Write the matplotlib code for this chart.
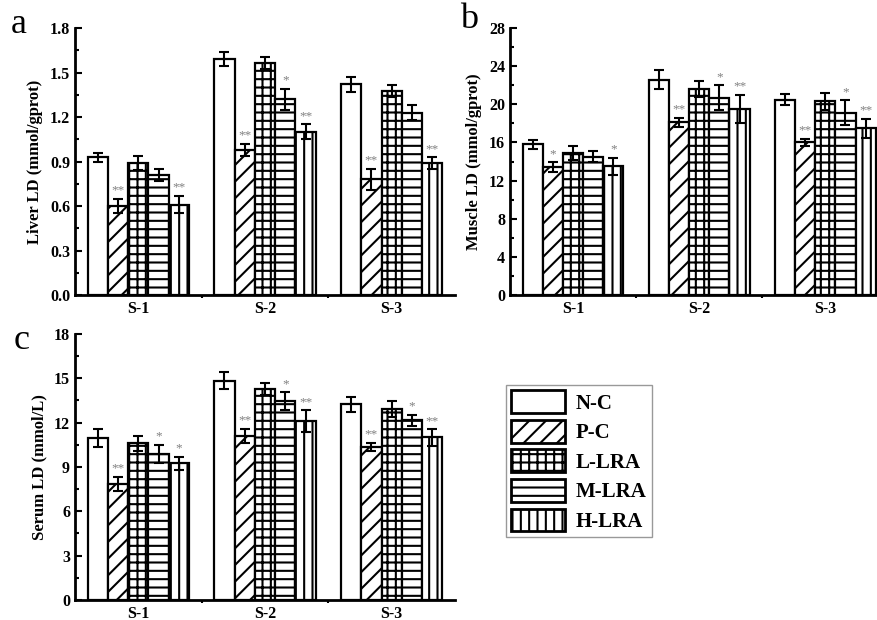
"""Liver, muscle and serum LD bar charts for the five treatment groups."""
import matplotlib

matplotlib.use("Agg")
import matplotlib.pyplot as plt
import numpy as np
from matplotlib.patches import Patch

groups = ["S-1", "S-2", "S-3"]
treatments = ["N-C", "P-C", "L-LRA", "M-LRA", "H-LRA"]
hatches = ["", "//", "++", "--", "||"]

# Rows are treatments (N-C .. H-LRA), columns are S-1, S-2, S-3.
liver_means = [
    [0.93, 1.59, 1.42],
    [0.60, 0.98, 0.78],
    [0.89, 1.565, 1.375],
    [0.81, 1.32, 1.23],
    [0.61, 1.10, 0.89],
]
liver_errors = [
    [0.03, 0.045, 0.05],
    [0.05, 0.04, 0.07],
    [0.05, 0.04, 0.04],
    [0.04, 0.07, 0.05],
    [0.06, 0.05, 0.04],
]
liver_stars = [
    ["", "", ""],
    ["**", "**", "**"],
    ["", "", ""],
    ["", "*", ""],
    ["**", "**", "**"],
]

muscle_means = [
    [15.8, 22.6, 20.5],
    [13.4, 18.1, 16.0],
    [14.9, 21.6, 20.3],
    [14.5, 20.7, 19.1],
    [13.5, 19.5, 17.5],
]
muscle_errors = [
    [0.5, 1.0, 0.6],
    [0.5, 0.5, 0.4],
    [0.7, 0.8, 0.9],
    [0.6, 1.3, 1.3],
    [0.9, 1.5, 1.0],
]
muscle_stars = [
    ["", "", ""],
    ["*", "**", "**"],
    ["", "", ""],
    ["", "*", "*"],
    ["*", "**", "**"],
]

serum_means = [
    [10.95, 14.85, 13.25],
    [7.85, 11.1, 10.35],
    [10.6, 14.25, 12.9],
    [9.9, 13.45, 12.15],
    [9.25, 12.1, 11.0],
]
serum_errors = [
    [0.6, 0.55, 0.5],
    [0.5, 0.5, 0.3],
    [0.5, 0.4, 0.55],
    [0.6, 0.6, 0.4],
    [0.45, 0.75, 0.55],
]
serum_stars = [
    ["", "", ""],
    ["**", "**", "**"],
    ["", "", ""],
    ["*", "*", "*"],
    ["*", "**", "**"],
]

SERIF = "Liberation Serif"
EDGE_LW = 1.6
BAR_W = 0.16


def draw_panel(ax, means, errors, stars, ymax, ystep, ylabel, fmt, xmax=3.5):
    x = np.arange(1, len(groups) + 1)
    for i, (m, e, s) in enumerate(zip(means, errors, stars)):
        pos = x + (i - 2) * BAR_W
        ax.bar(
            pos,
            m,
            width=BAR_W,
            facecolor="white",
            edgecolor="black",
            linewidth=EDGE_LW,
            hatch=hatches[i],
            zorder=2,
        )
        ax.errorbar(
            pos,
            m,
            yerr=e,
            fmt="none",
            ecolor="black",
            elinewidth=1.5,
            capsize=3.5,
            capthick=1.5,
            zorder=3,
        )
        for px, top, err, label in zip(pos, m, e, s):
            if label:
                ax.text(
                    px,
                    top + err + ymax * 0.008,
                    label,
                    ha="center",
                    va="bottom",
                    color="#808080",
                    fontsize=9.5,
                    family=SERIF,
                )

    ax.set_xlim(0.5, xmax)
    ax.set_ylim(0, ymax)
    ax.set_xticks(x)
    ax.set_xticklabels(groups)
    ax.set_xticks([1.5, 2.5], minor=True)
    ax.set_yticks(np.arange(0, ymax + ystep / 2, ystep))
    ax.set_yticks(np.arange(ystep / 2, ymax, ystep), minor=True)
    ax.yaxis.set_major_formatter(matplotlib.ticker.FormatStrFormatter(fmt))

    for side in ["top", "right"]:
        ax.spines[side].set_visible(False)
    for side in ["left", "bottom"]:
        ax.spines[side].set_linewidth(2)

    ax.tick_params(axis="y", which="major", direction="in", length=5, width=1.5)
    ax.tick_params(axis="y", which="minor", direction="in", length=3, width=1.5)
    ax.tick_params(axis="x", which="major", length=0, pad=4)
    ax.tick_params(axis="x", which="minor", direction="out", length=2, width=1.5)
    for lab in ax.get_xticklabels() + ax.get_yticklabels():
        lab.set_fontfamily(SERIF)
        lab.set_fontweight("bold")
        lab.set_fontsize(11.5)
    ax.set_ylabel(ylabel, family=SERIF, fontweight="bold", fontsize=12, labelpad=5)


def plot():
    plt.rcParams["hatch.linewidth"] = 1.5

    fig = plt.figure(figsize=(8.77, 6.2), dpi=100)
    fig.patch.set_facecolor("white")

    ax_a = fig.add_axes([0.0855, 0.5242, 0.4333, 0.4306])
    ax_b = fig.add_axes([0.5815, 0.5242, 0.4185, 0.4306])
    ax_c = fig.add_axes([0.0855, 0.0323, 0.4333, 0.4290])

    draw_panel(ax_a, liver_means, liver_errors, liver_stars, 1.8, 0.3,
               "Liver LD (mmol/gprot)", "%.1f")
    draw_panel(ax_b, muscle_means, muscle_errors, muscle_stars, 28, 4,
               "Muscle LD (mmol/gprot)", "%d", xmax=3.41)
    draw_panel(ax_c, serum_means, serum_errors, serum_stars, 18, 3,
               "Serum LD (mmol/L)", "%d")

    # Panel letters.
    fig.text(0.012, 0.947, "a", family=SERIF, fontsize=26, va="baseline")
    fig.text(0.524, 0.955, "b", family=SERIF, fontsize=26, va="baseline")
    fig.text(0.016, 0.437, "c", family=SERIF, fontsize=26, va="baseline")

    # Shared legend in the empty lower right slot.
    handles = [
        Patch(facecolor="white", edgecolor="black", linewidth=2, hatch=h, label=t)
        for t, h in zip(treatments, hatches)
    ]
    leg = fig.legend(
        handles=handles,
        loc="upper left",
        bbox_to_anchor=(506 / 877, 1 - 385 / 620),
        prop={"family": SERIF, "weight": "bold", "size": 15},
        handlelength=2.6,
        handleheight=1.3,
        labelspacing=0.3,
        handletextpad=0.5,
        borderpad=0.25,
        borderaxespad=0,
        fancybox=False,
        edgecolor="#808080",
    )
    leg.get_frame().set_linewidth(1)

    plt.savefig("out.png", dpi=100)


if __name__ == "__main__":
    plot()
